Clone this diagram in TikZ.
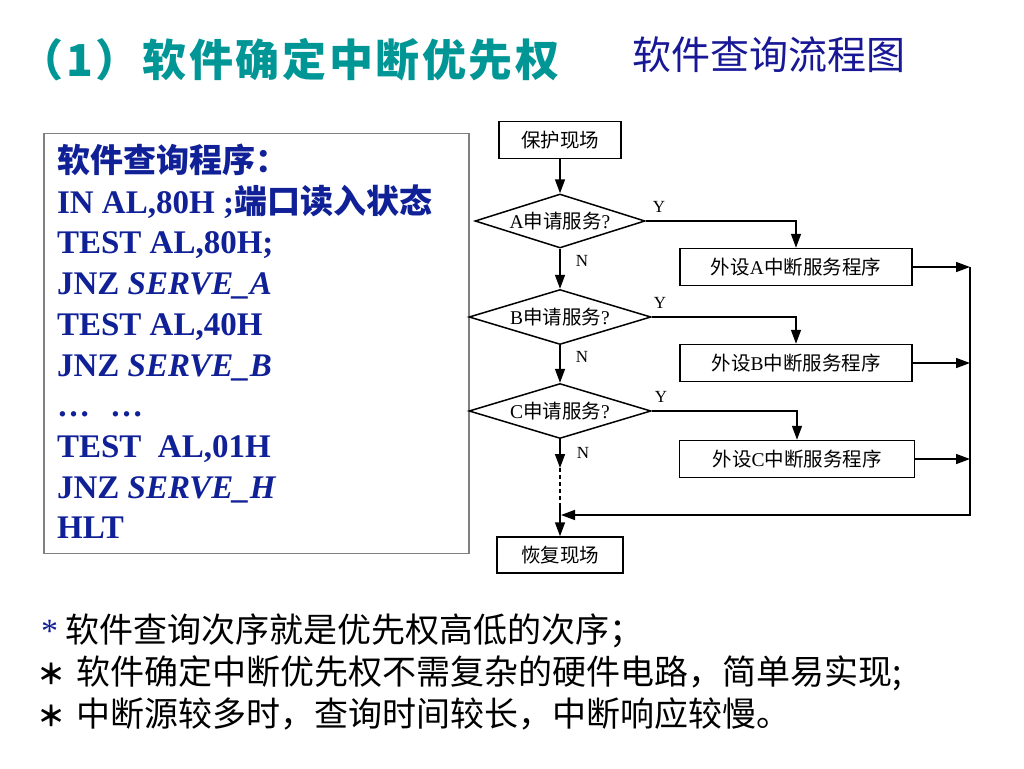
\documentclass[tikz,border=0pt]{standalone}
\usepackage{fontspec}
\setmainfont{Liberation Serif}
\newfontfamily\cjk{Noto Sans CJK SC}
\newfontfamily\cjktitle[LetterSpace=6]{Noto Sans CJK SC}
\usepackage{xcolor}
\definecolor{colorTitle}{RGB}{0,150,150}
\definecolor{colorHead}{RGB}{24,24,150}
\definecolor{colorCode}{RGB}{16,32,150}
\usetikzlibrary{arrows.meta, shapes.geometric, positioning}
\newcommand{\zh}[1]{{\cjk #1}}
\newcommand{\fsize}[2]{\fontsize{#1}{#2}\selectfont}
\tikzset{
  procbox/.style={draw, line width=1.5pt, minimum height=37pt, inner sep=0pt, font=\fsize{19.5}{22}},
  askbox/.style={draw, diamond, line width=1.5pt, aspect=3.2, inner sep=0pt, minimum width=182pt, minimum height=55pt, font=\fsize{19.5}{22}},
  yn/.style={font=\fsize{17}{19}},
  codeline/.style={anchor=base west, text=colorCode, font=\bfseries\fsize{33}{40}},
  noteline/.style={anchor=base west, font=\cjk\fsize{34}{40}},
}

\begin{document}
\begin{tikzpicture}[x=1pt, y=-1pt, >={Triangle[length=14pt, width=10pt]}, line width=1.5pt]
\useasboundingbox (0,0) rectangle (1024,768);
% titles
\node[anchor=west, inner sep=0pt, text=colorTitle, font=\cjktitle\bfseries\fsize{44}{48}] (title) at (19,60) {（1）软件确定中断优先权};
\node[anchor=west, text=colorHead, font=\cjk\fsize{39}{44}] (subtitle) at (628,55) {软件查询流程图};
% program listing
\node[draw=gray, line width=1.2pt, minimum width=425pt, minimum height=420pt, inner sep=0pt] (listing) at (256.5,343.5) {};
\foreach \txt [count=\i] in {{\zh{软件查询程序：}}, {IN AL,80H ;\zh{端口读入状态}}, {TEST AL,80H;}, {JNZ \textit{SERVE\_A}}, {TEST AL,40H}, {JNZ \textit{SERVE\_B}}, {…\hspace{20pt}…}, {TEST\ \ AL,01H}, {JNZ \textit{SERVE\_H}}, {HLT}}
  \node[codeline] (line\i) at (53, 172.5+40.7*\i-40.7) {\txt};
% flow chart
\node[procbox, minimum width=122pt] (protect) at (560,140) {\zh{保护现场}};
\node[askbox, minimum width=170pt, minimum height=54pt] (askA) at (560,221) {A\zh{申请服务}?};
\node[askbox] (askB) at (560,317) {B\zh{申请服务}?};
\node[askbox] (askC) at (560,411) {C\zh{申请服务}?};
\node[procbox, minimum width=232pt] (servA) at (796,267) {\zh{外设}A\zh{中断服务程序}};
\node[procbox, minimum width=232pt] (servB) at (796,363) {\zh{外设}B\zh{中断服务程序}};
\node[procbox, minimum width=235pt] (servC) at (797,459) {\zh{外设}C\zh{中断服务程序}};
\node[procbox, minimum width=126pt, minimum height=36pt] (restore) at (560,555) {\zh{恢复现场}};
\node[yn] (yA) at (659,207) {Y};
\node[yn] (yB) at (660,303) {Y};
\node[yn] (yC) at (661,397) {Y};
\node[yn] (nA) at (582,261) {N};
\node[yn] (nB) at (582,357) {N};
\node[yn] (nC) at (583,453) {N};
\coordinate (busA) at (970,267);
\coordinate (busB) at (970,363);
\coordinate (busC) at (970,459);
\coordinate (busEnd) at (970,515);
\coordinate (join) at (561,515);
\coordinate (gapTop) at (560,468);
\coordinate (gapEnd) at (560,503);
\draw[->] (protect) -- (askA);
\draw[->] (askA) -- (askB);
\draw[->] (askB) -- (askC);
\draw[->] (askA.east) -| (servA.north);
\draw[->] (askB.east) -| (servB.north);
\draw[->] (askC.east) -| (servC.north);
\draw[->] (servA) -- (busA);
\draw[->] (servB) -- (busB);
\draw[->] (servC) -- (busC);
\draw[->] (busA) -- (busEnd) -- (join);
\draw[->] (askC) -- (gapTop);
\draw[dashed, dash pattern=on 4pt off 3pt] (gapTop) -- (gapEnd);
\draw[->] (gapEnd) -- (restore);
% remarks
\node[noteline] (note1) at (37,642) {\textcolor{colorCode}{\rmfamily *}\hspace{7pt}软件查询次序就是优先权高低的次序；};
\node[noteline] (note2) at (33,684) {{\bfseries\fsize{28}{40}＊}\hspace{11pt}软件确定中断优先权不需复杂的硬件电路，简单易实现;};
\node[noteline] (note3) at (33,726) {{\bfseries\fsize{28}{40}＊}\hspace{11pt}中断源较多时，查询时间较长，中断响应较慢。};
\end{tikzpicture}
\end{document}
